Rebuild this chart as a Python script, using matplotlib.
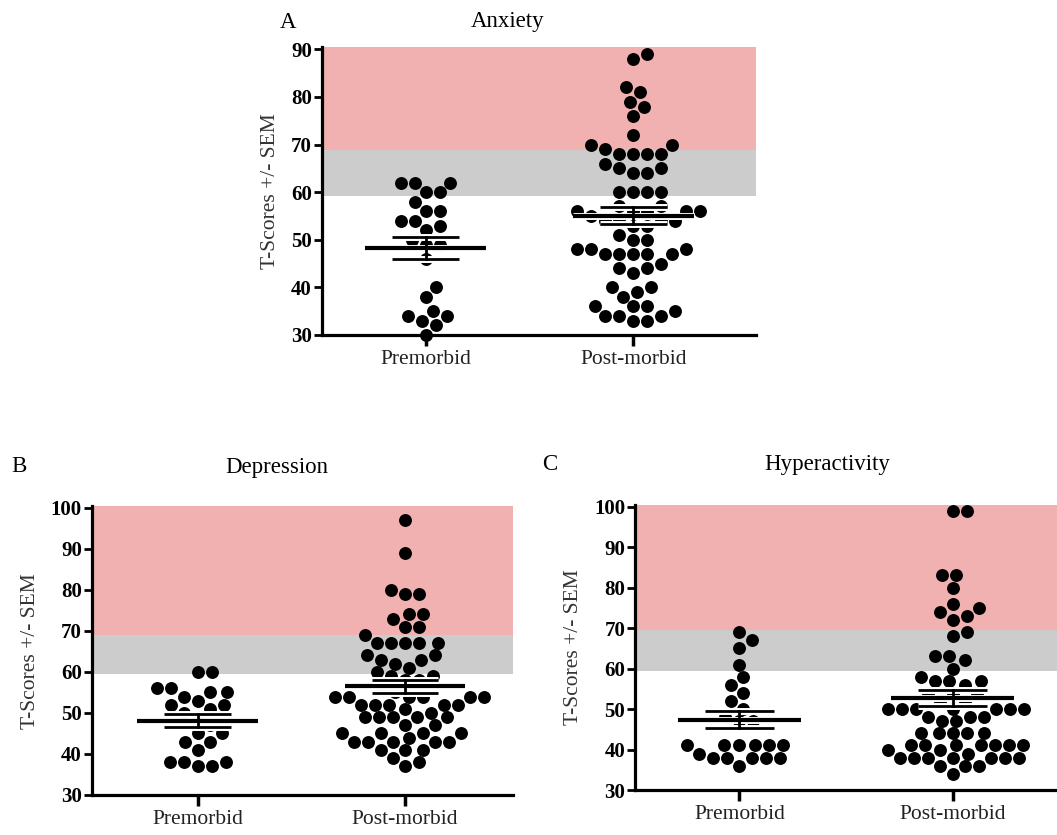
import numpy as np
import matplotlib
matplotlib.use('Agg')
import matplotlib.pyplot as plt
import matplotlib.patheffects as pe

groups = ['Premorbid', 'Post-morbid']

# T-scores
anx_pre = [62, 62, 62, 60, 60, 58, 56, 56, 54, 54, 53, 52, 50, 49, 49, 46,
           40, 38, 35, 34, 34, 33, 32, 30]
anx_post = [89, 88, 82, 81, 79, 78, 76, 72, 70, 70, 69, 68, 68, 68, 68, 66,
            65, 65, 64, 64, 60, 60, 60, 60, 57, 57, 56, 56, 56, 56, 56, 55,
            54, 54, 54, 54, 53, 53, 51, 50, 50, 48, 48, 48, 47, 47, 47, 47,
            47, 45, 44, 44, 43, 40, 40, 39, 38, 36, 36, 36, 35, 34, 34, 34,
            33, 33]
dep_pre = [60, 60, 56, 56, 55, 55, 54, 53, 52, 52, 51, 50, 49, 47, 45, 45,
           43, 43, 41, 38, 38, 38, 37, 37]
dep_post = [97, 89, 80, 79, 79, 74, 74, 73, 71, 71, 69, 67, 67, 67, 67, 67,
            64, 64, 63, 63, 62, 61, 60, 59, 59, 58, 58, 56, 55, 54, 54, 54,
            54, 54, 54, 52, 52, 52, 52, 52, 51, 50, 49, 49, 49, 49, 49, 47,
            47, 45, 45, 45, 45, 44, 43, 43, 43, 43, 43, 41, 41, 41, 39, 38,
            37]
hyp_pre = [69, 67, 65, 61, 58, 56, 54, 52, 50, 48, 47, 47, 41, 41, 41, 41,
           41, 41, 39, 38, 38, 38, 38, 38, 36]
hyp_post = [99, 99, 83, 83, 80, 76, 75, 74, 73, 72, 69, 68, 63, 63, 62, 60,
            58, 57, 57, 57, 56, 54, 54, 54, 52, 52, 50, 50, 50, 50, 50, 50,
            50, 48, 48, 48, 47, 47, 44, 44, 44, 44, 44, 41, 41, 41, 41, 41,
            41, 41, 40, 40, 39, 38, 38, 38, 38, 38, 38, 38, 36, 36, 36, 34]

plt.rcParams['font.family'] = ['Liberation Serif', 'DejaVu Serif']

W, H = 1057, 835
fig = plt.figure(figsize=(W / 100, H / 100), dpi=100)

PINK = '#F2B1B1'
GREY = '#CCCCCC'


#横方向の配置（ビースウォーム）
def swarm(vals, sx, sy, dh=14.0, dv=12.5):
    vals = np.asarray(vals, float)
    offs = np.zeros(len(vals))
    placed = []
    step = dh / 8
    cands = [0.0]
    for k in range(1, 80):
        cands += [k * step, -k * step]
    for i in np.argsort(vals, kind='stable'):
        y = vals[i] * sy
        for c in cands:
            ok = True
            for px, py in placed:
                if ((c - px) / dh) ** 2 + ((y - py) / dv) ** 2 < 1:
                    ok = False
                    break
            if ok:
                break
        placed.append((c, y))
        offs[i] = c / sx
    return offs


#パネル描画
def panel(x0, x1, y30, ppu, ytop, xlim, yticks, bands, pre, post, title,
          letter, letter_xy, title_xy):
    hpx = (ytop - 30) * ppu
    ax = fig.add_axes([x0 / W, 1 - y30 / H, (x1 - x0) / W, hpx / H])
    ax.set_xlim(*xlim)
    ax.set_ylim(30, ytop)
    ax.axhspan(bands[0], bands[1], color=GREY, lw=0, zorder=0)
    ax.axhspan(bands[1], ytop, color=PINK, lw=0, zorder=0)
    sx = (x1 - x0) / (xlim[1] - xlim[0])
    for k, vals in enumerate([pre, post]):
        vals = np.asarray(vals, float)
        xo = swarm(vals, sx, ppu)
        ax.plot(k + xo, vals, 'o', color='black', ms=9.3, mew=0, zorder=3,
                clip_on=False)
        m = vals.mean()
        sem = vals.std(ddof=1) / np.sqrt(len(vals))
        halo = [pe.withStroke(linewidth=5, foreground='white')]
        ax.plot([k - 0.29, k + 0.29], [m, m], color='black', lw=3, zorder=5,
                path_effects=halo, solid_capstyle='butt')
        for v in (m - sem, m + sem):
            ax.plot([k - 0.16, k + 0.16], [v, v], color='black', lw=2,
                    zorder=5, path_effects=halo, solid_capstyle='butt')
        ax.plot([k, k], [m - sem, m + sem], color='black', lw=2, zorder=5)
    for s in ('top', 'right'):
        ax.spines[s].set_visible(False)
    for s in ('left', 'bottom'):
        ax.spines[s].set_linewidth(2.3)
        ax.spines[s].set_color('black')
    ax.set_yticks(yticks)
    ax.set_xticks([0, 1])
    ax.set_xticklabels(groups)
    ax.tick_params(axis='y', direction='out', length=6, width=2,
                   labelsize=15, pad=1, colors='black')
    ax.tick_params(axis='x', direction='out', length=8, width=2.5,
                   labelsize=15.5, pad=3, colors='black')
    for lbl in ax.get_yticklabels():
        lbl.set_fontweight('bold')
    for lbl in ax.get_xticklabels():
        lbl.set_color('#222222')
    ax.set_ylabel('T-Scores +/- SEM', fontsize=15.5, color='#333333',
                  labelpad=8)
    fig.text(letter_xy[0] / W, 1 - letter_xy[1] / H, letter, fontsize=16.5,
             ha='center', va='center')
    fig.text(title_xy[0] / W, 1 - title_xy[1] / H, title, fontsize=16.5,
             ha='center', va='center')
    return ax


panel(321.7, 756, 335, 4.76, 90.4, (-0.5, 1.59), range(30, 91, 10),
      (59.2, 68.9), anx_pre, anx_post, 'Anxiety', 'A', (288, 22), (508, 22))
panel(91.7, 513, 795, 4.104, 100.3, (-0.51, 1.52), range(30, 101, 10),
      (59.4, 69.1), dep_pre, dep_post, 'Depression', 'B', (19, 467),
      (277, 467))
panel(635, 1057, 790, 4.048, 100.5, (-0.49, 1.49), range(30, 101, 10),
      (59.4, 69.5), hyp_pre, hyp_post, 'Hyperactivity', 'C', (550, 465),
      (827, 465))

fig.savefig('out.png', dpi=100)
